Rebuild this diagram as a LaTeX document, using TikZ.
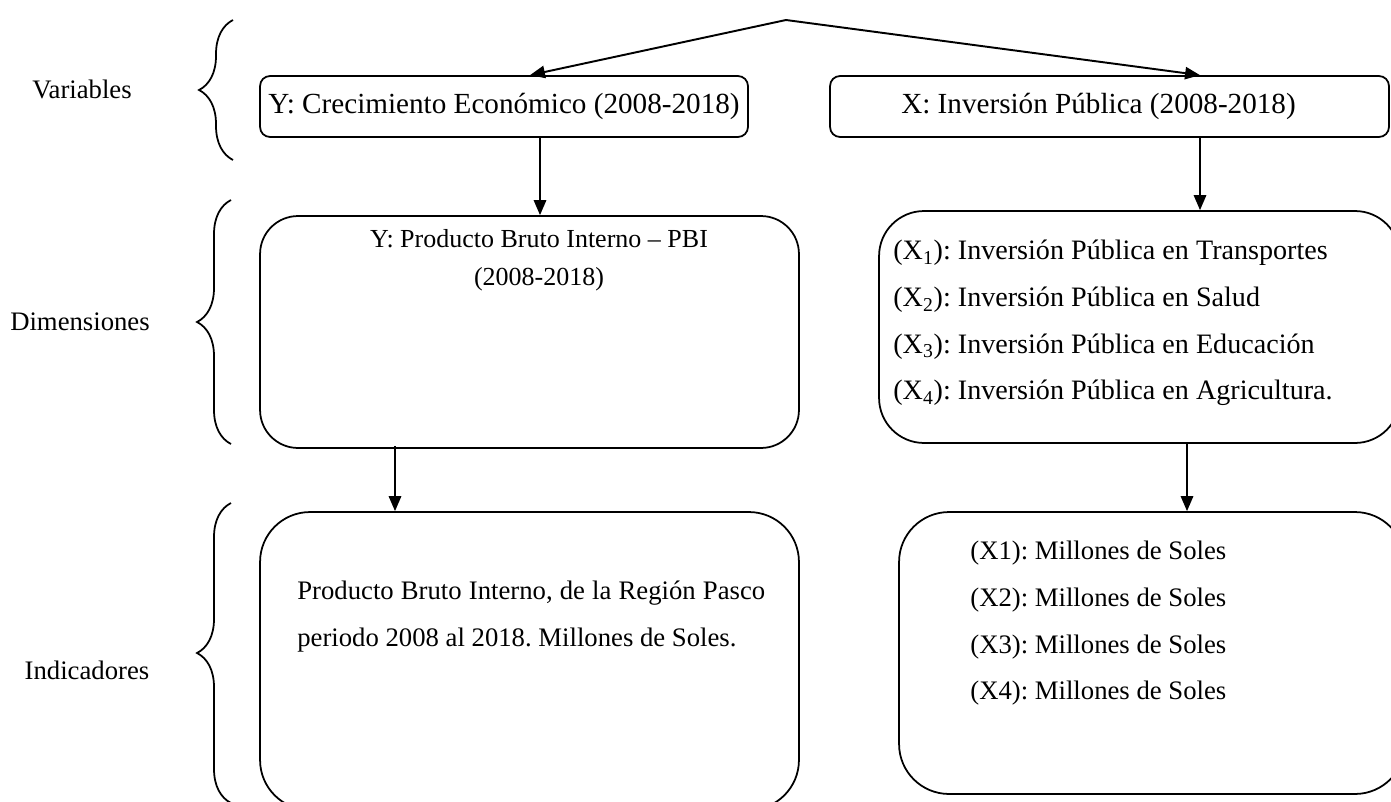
\documentclass[tikz,border=0pt]{standalone}
\usepackage{fontspec}
\setmainfont{Liberation Serif}
\usetikzlibrary{arrows.meta,decorations.pathreplacing}

\tikzset{
  caja/.style={draw, line width=1pt, rounded corners=#1, inner sep=0pt},
  texto/.style={font=\fontsize{15.2}{26.5}\selectfont\frenchspacing, inner sep=0pt},
  grande/.style={font=\fontsize{16.6}{20}\selectfont\frenchspacing},
  flecha/.style={line width=1.1pt, -{Triangle[length=8.5pt,width=7pt]}},
  llave/.style={line width=1pt, decorate, decoration={brace, amplitude=0.68cm}},
}

\begin{document}
\begin{tikzpicture}[x=0.02cm, y=-0.02cm]
  \useasboundingbox (0,0) rectangle (1391,801);
  % Etiquetas de la izquierda
  \node[texto] (variables) at (82,89) {Variables};
  \node[texto] (dimensiones) at (80,322) {Dimensiones};
  \node[texto] (indicadores) at (87,670) {Indicadores};
  % Llaves
  \draw[llave] (233,160) -- (233,20);
  \draw[llave] (231,444) -- (231,200);
  \draw[llave] (231,803) -- (231,503);
  % Variables
  \node[caja=0.2cm, texto, grande, minimum width=9.76cm, minimum height=1.22cm] (y1) at (504,106.5) {Y: Crecimiento Económico (2008-2018)};
  \node[caja=0.2cm, texto, grande, minimum width=11.18cm, minimum height=1.22cm] (x1) at (1109.5,106.5) {X: Inversión Pública (2008-2018)\hspace*{0.44cm}};
  % Dimensiones
  \node[caja=0.76cm, minimum width=10.78cm, minimum height=4.64cm] (y2) at (529.5,332) {};
  \node[texto, font=\fontsize{14.8}{21.5}\selectfont\frenchspacing, align=center, anchor=north] (y2txt) at (539,229) {Y: Producto Bruto Interno – PBI\\(2008-2018)};
  \node[caja=0.9cm, minimum width=10.42cm, minimum height=4.64cm] (x2) at (1139.5,327) {};
  \node[texto, font=\fontsize{16}{26.5}\selectfont\frenchspacing, align=left, anchor=north west] (x2txt) at (893,240)
    {(X\textsubscript{1}): Inversión Pública en Transportes\\
     (X\textsubscript{2}): Inversión Pública en Salud\\
     (X\textsubscript{3}): Inversión Pública en Educación\\
     (X\textsubscript{4}): Inversión Pública en Agricultura.};
  % Indicadores
  \node[caja=1cm, minimum width=10.78cm, minimum height=5.96cm] (y3) at (529.5,661) {};
  \node[texto, align=justify, text width=9.36cm, anchor=north west] (y3txt) at (297,581)
    {\parfillskip=0pt Producto Bruto Interno, de la Región Pasco\linebreak periodo 2008 al 2018. Millones de Soles.};
  \node[caja=1cm, minimum width=10.12cm, minimum height=5.64cm] (x3) at (1152,653) {};
  \node[texto, align=left, anchor=north west] (x3txt) at (970,541)
    {(X1): Millones de Soles\\
     (X2): Millones de Soles\\
     (X3): Millones de Soles\\
     (X4): Millones de Soles};
  % Flechas
  \coordinate (cima) at (786,20);
  \draw[flecha] (cima) -- (y1.north -| 530,0);
  \draw[flecha] (cima) -- (x1.north -| 1200,0);
  \draw[flecha] (y1.south -| 540,0) -- (y2.north -| 540,0);
  \draw[flecha] (x1.south -| 1200,0) -- (x2.north -| 1200,0);
  \draw[flecha] ([yshift=0.06cm]y2.south -| 395,0) -- (y3.north -| 395,0);
  \draw[flecha] (x2.south -| 1187,0) -- (x3.north -| 1187,0);
\end{tikzpicture}
\end{document}
